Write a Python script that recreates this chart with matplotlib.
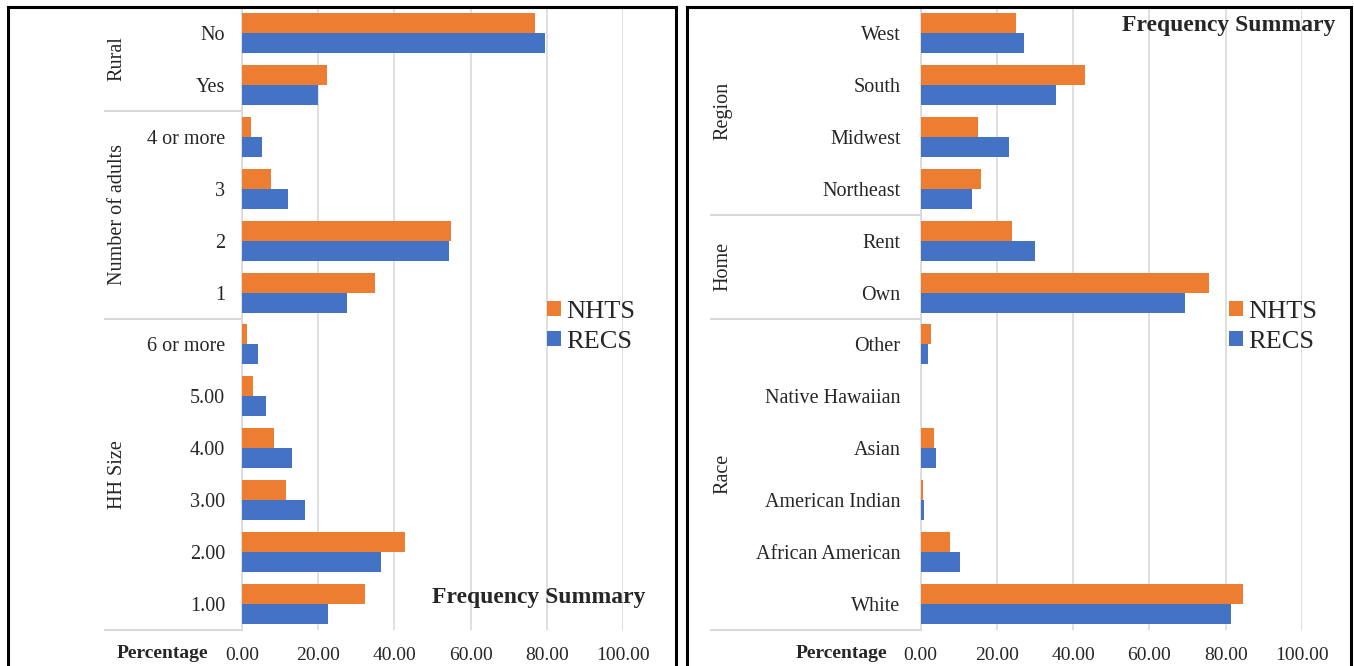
import matplotlib.pyplot as plt
from matplotlib.patches import Rectangle
from matplotlib.transforms import blended_transform_factory

# Household characteristics (percent of households)
left_labels = ["No", "Yes", "4 or more", "3", "2", "1",
               "6 or more", "5.00", "4.00", "3.00", "2.00", "1.00"]
left_nhts = [77.0, 22.4, 2.3, 7.6, 54.9, 34.8, 1.4, 2.9, 8.5, 11.5, 42.8, 32.3]
left_recs = [79.6, 19.9, 5.3, 12.2, 54.3, 27.6, 4.3, 6.3, 13.1, 16.5, 36.4, 22.7]
left_groups = ["Rural", "Number of adults", "HH Size"]
left_group_sizes = [2, 4, 6]

right_labels = ["West", "South", "Midwest", "Northeast", "Rent", "Own",
                "Other", "Native Hawaiian", "Asian", "American Indian",
                "African American", "White"]
right_nhts = [25.0, 43.2, 15.1, 15.9, 24.0, 75.7, 2.7, 0.0, 3.6, 0.5, 7.7, 84.5]
right_recs = [27.0, 35.4, 23.1, 13.5, 30.0, 69.3, 2.0, 0.0, 4.1, 1.0, 10.2, 81.5]
right_groups = ["Region", "Home", "Race"]
right_group_sizes = [4, 2, 6]

x_ticks = [0, 20, 40, 60, 80, 100]

ORANGE = "#ED7D31"
BLUE = "#4472C4"
GRID = "#D9D9D9"
W, H = 1354, 666

plt.rcParams['font.family'] = ['Liberation Serif', 'DejaVu Serif']
fig = plt.figure(figsize=(W / 100, H / 100), dpi=100)


def px_rect(x0, y0, x1, y1):
    # pixel box (top-left origin) -> figure fraction rect
    return [x0 / W, 1 - y1 / H, (x1 - x0) / W, (y1 - y0) / H]


def panel(ax, labels, nhts, recs, groups, sizes, label_pad, sep_x, group_x):
    n = len(labels)
    pos = list(range(n))
    bh = 0.385
    ax.barh([p - bh / 2 for p in pos], nhts, height=bh, color=ORANGE, label="NHTS", zorder=3)
    ax.barh([p + bh / 2 for p in pos], recs, height=bh, color=BLUE, label="RECS", zorder=3)
    ax.set_ylim(n - 0.5, -0.5)
    ax.set_xlim(0, 100)
    ax.set_yticks(pos)
    ax.set_yticklabels(labels, fontsize=14.5)
    ax.set_xticks(x_ticks)
    ax.set_xticklabels([f"{t:.2f}" for t in x_ticks], fontsize=14)
    ax.tick_params(axis='y', length=0, pad=label_pad, colors="#262626")
    ax.tick_params(axis='x', length=0, pad=12, colors="#262626")
    ax.grid(axis='x', color=GRID, linewidth=1.2, zorder=0)
    for s in ["top", "right", "bottom"]:
        ax.spines[s].set_visible(False)
    ax.spines["left"].set_color(GRID)
    ax.spines["left"].set_linewidth(1.2)

    # group separators and rotated group names
    tr = blended_transform_factory(ax.transAxes, ax.transData)
    start = -0.5
    for name, size in zip(groups, sizes):
        end = start + size
        ax.plot([sep_x, 0], [end, end], color=GRID, lw=1.5, transform=tr, clip_on=False)
        ax.text(group_x, (start + end) / 2, name, rotation=90, ha="center", va="center",
                fontsize=14.5, color="#262626", transform=tr)
        start = end

    ax.text(-0.088, -0.038, "Percentage", transform=ax.transAxes, ha="right", va="center",
            fontsize=14, fontweight="bold", color="#262626")


def add_legend(ax, x_px):
    fig.legend(*ax.get_legend_handles_labels(), loc="center left",
               bbox_to_anchor=(x_px / W, 1 - 327 / H), frameon=False, fontsize=19,
               handlelength=0.53, handleheight=0.5, handletextpad=0.2, labelspacing=0.28,
               borderpad=0, borderaxespad=0, labelcolor="#262626")


# left panel
ax1 = fig.add_axes(px_rect(242, 7, 623, 630))
panel(ax1, left_labels, left_nhts, left_recs, left_groups, left_group_sizes,
      12, (105 - 242) / 381, (117 - 242) / 381)
ax1.text(645 / W, 1 - 597 / H, "Frequency Summary", transform=fig.transFigure,
         ha="right", va="center", fontsize=17, fontweight="bold", color="#262626")
add_legend(ax1, 547)

# right panel
ax2 = fig.add_axes(px_rect(920.6, 7, 1302, 630))
panel(ax2, right_labels, right_nhts, right_recs, right_groups, right_group_sizes,
      14.5, (711 - 920.6) / 381.4, (723 - 920.6) / 381.4)
ax2.text(1336 / W, 1 - 26 / H, "Frequency Summary", transform=fig.transFigure,
         ha="right", va="center", fontsize=17, fontweight="bold", color="#262626")
add_legend(ax2, 1229)

# black frames around each panel (bottom edge runs off the canvas)
for x0, x1 in [(8, 676), (687, 1351)]:
    fig.patches.append(Rectangle((x0 / W, -0.05), (x1 - x0) / W, 1 - 7 / H + 0.05,
                                 transform=fig.transFigure, fill=False,
                                 edgecolor="black", linewidth=2.2))

plt.savefig("out.png", dpi=100)
